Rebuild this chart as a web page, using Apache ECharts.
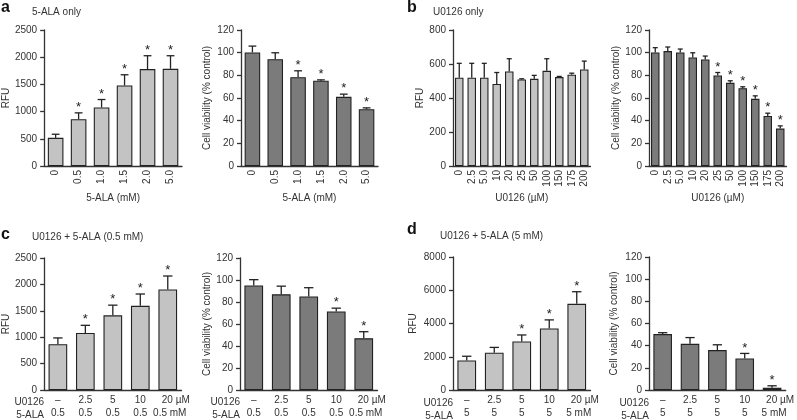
<!DOCTYPE html>
<html><head><meta charset="utf-8">
<script src="https://cdn.jsdelivr.net/npm/echarts@6/dist/echarts.min.js"></script>
<style>html,body{margin:0;padding:0;background:#fff}#c{width:797px;height:420px}</style>
</head><body><div id="c"></div>
<script>
// ---- data ----
const aAla = ['0','0.5','1.0','1.5','2.0','5.0'];
const aRfu = [518,860,1075,1480,1781,1787];
const aRfuErr = [66,117,147,197,246,240];
const aRfuSig = [0,1,1,1,1,1];
const aVia = [100.2,94.3,78.4,75.2,61,50.1];
const aViaErr = [5.6,5.6,5.6,0.8,2.4,1.2];
const aViaSig = [0,0,1,1,1,1];

const bU = ['0','2.5','5.0','10','20','25','50','100','150','175','200'];
const bRfu = [519,519,519,483,556,509,513,560,523,537,568];
const bRfuErr = [85,85,85,67,75,4,20,71,4,9,49];
const bVia = [100.2,101.4,100.2,95.8,94,79.9,73.4,68.7,59.3,44.2,33];
const bViaErr = [4.2,3.6,3,4.1,3,2.6,1.8,1.2,2.6,2.4,2.4];
const bViaSig = [0,0,0,0,0,1,1,1,1,1,1];

const cdU = ['–','2.5','5','10','20'];
const cAla = ['0.5','0.5','0.5','0.5','0.5'];
const cRfu = [868,1080,1414,1594,1904];
const cRfuErr = [118,145,193,224,255];
const cRfuSig = [0,1,1,1,1];
const cVia = [95,87,85,71.4,47];
const cViaErr = [5.3,7.4,8,3,6];
const cViaSig = [0,0,0,1,1];

const dAla = ['5','5','5','5','5'];
const dRfu = [1773,2246,2916,3704,5182];
const dRfuErr = [257,316,394,513,729];
const dRfuSig = [0,0,1,1,1];
const dVia = [50.5,41.7,36,28.4,2];
const dViaErr = [1.2,5.6,4.8,4.6,1.8];
const dViaSig = [0,0,0,1,1];

// ---- styling ----
const FF = '"Liberation Sans", Arial, sans-serif';
const TXT = '#333';
const AX = '#333';
const LIGHT = '#c3c3c3';
const DARK = '#7b7b7b';

const grids = [
  {left:44, top:30, width:138, height:136},
  {left:241, top:30, width:137, height:136},
  {left:453, top:30, width:137.5, height:136},
  {left:649, top:30, width:137.5, height:136},
  {left:44, top:258, width:137.5, height:134},
  {left:240, top:258, width:137.5, height:134},
  {left:453, top:257, width:137.5, height:136},
  {left:649, top:257, width:137.5, height:136}
];

function yAx(idx, max, interval, name, gap) {
  return {gridIndex: idx, type:'value', min:0, max, interval, name, nameLocation:'middle', nameGap:gap,
    nameTextStyle:{fontSize:10, color:TXT, fontFamily:FF},
    axisLine:{show:true, lineStyle:{color:AX, width:1.3}},
    axisTick:{show:true, length:4, lineStyle:{color:AX, width:1.3}},
    axisLabel:{fontSize:10, color:TXT, margin:7, fontFamily:FF, formatter:v => String(v)},
    splitLine:{show:false}};
}
function xRot(idx, cats, name) {
  return {gridIndex: idx, type:'category', data:cats, name, nameLocation:'middle', nameGap:27,
    nameTextStyle:{fontSize:10, color:TXT, fontFamily:FF},
    axisLine:{show:true, lineStyle:{color:AX, width:1.3}},
    axisTick:{show:false},
    axisLabel:{rotate:90, fontSize:10, color:TXT, margin:4, fontFamily:FF, interval:0}};
}
function xTwo(idx, uCats, alaCats) {
  const n = uCats.length;
  return {gridIndex: idx, type:'category', data:uCats,
    axisLine:{show:true, lineStyle:{color:AX, width:1.3}},
    axisTick:{show:false},
    axisLabel:{interval:0, margin:4, fontSize:10, color:TXT, fontFamily:FF, lineHeight:13,
      formatter:(v, i) => i === n-1
        ? `{p1|}{v|${v} µM}\n{p2|}{v|${alaCats[i]} mM}`
        : `{v|${v}}\n{v|${alaCats[i]}}`,
      rich:{v:{fontSize:10, color:TXT, fontFamily:FF, lineHeight:13}, p1:{width:16}, p2:{width:4}}}};
}
function barS(idx, data, color) {
  return {type:'bar', xAxisIndex:idx, yAxisIndex:idx, data, barWidth:'68%', silent:true,
    itemStyle:{color, borderColor:'#222', borderWidth:1.1}};
}
function errS(idx, means, errs, sigs) {
  return {type:'custom', xAxisIndex:idx, yAxisIndex:idx, z:5, silent:true,
    data: means.map((m,i)=>[i, m, m+errs[i], sigs ? sigs[i] : 0]),
    renderItem(params, api) {
      const base = api.coord([api.value(0), api.value(1)]);
      const top = api.coord([api.value(0), api.value(2)]);
      const bw = api.size([1,0])[0] * 0.68;
      const cw = Math.max(5, bw * 0.5);
      const ch = [
        {type:'line', shape:{x1:base[0], y1:base[1], x2:top[0], y2:top[1]}, style:{stroke:'#222', lineWidth:1.3}},
        {type:'line', shape:{x1:top[0]-cw/2, y1:top[1], x2:top[0]+cw/2, y2:top[1]}, style:{stroke:'#222', lineWidth:1.3}}
      ];
      if (api.value(3)) ch.push({type:'text', x:top[0], y:top[1]+1,
        style:{text:'*', fill:'#222', fontSize:13, fontFamily:FF, align:'center', verticalAlign:'bottom'}});
      return {type:'group', children:ch};
    }};
}

const xAxes = [
  xRot(0, aAla, '5-ALA (mM)'), xRot(1, aAla, '5-ALA (mM)'),
  xRot(2, bU, 'U0126 (µM)'), xRot(3, bU, 'U0126 (µM)'),
  xTwo(4, cdU, cAla), xTwo(5, cdU, cAla), xTwo(6, cdU, dAla), xTwo(7, cdU, dAla)
];
const yAxes = [
  yAx(0, 2500, 500, 'RFU', 31), yAx(1, 120, 20, 'Cell viability (% control)', 29),
  yAx(2, 800, 200, 'RFU', 28), yAx(3, 120, 20, 'Cell viability (% control)', 28),
  yAx(4, 2500, 500, 'RFU', 32), yAx(5, 120, 20, 'Cell viability (% control)', 28),
  yAx(6, 8000, 2000, 'RFU', 35), yAx(7, 120, 20, 'Cell viability (% control)', 30)
];
const series = [
  barS(0, aRfu, LIGHT), errS(0, aRfu, aRfuErr, aRfuSig),
  barS(1, aVia, DARK), errS(1, aVia, aViaErr, aViaSig),
  barS(2, bRfu, LIGHT), errS(2, bRfu, bRfuErr, null),
  barS(3, bVia, DARK), errS(3, bVia, bViaErr, bViaSig),
  barS(4, cRfu, LIGHT), errS(4, cRfu, cRfuErr, cRfuSig),
  barS(5, cVia, DARK), errS(5, cVia, cViaErr, cViaSig),
  barS(6, dRfu, LIGHT), errS(6, dRfu, dRfuErr, dRfuSig),
  barS(7, dVia, DARK), errS(7, dVia, dViaErr, dViaSig)
];

const graphic = [];
function label(x, y, t, size, bold, color, align) {
  graphic.push({type:'text', x, y, silent:true, style:{text:t, fontSize:size, fontWeight:bold?'bold':'normal',
    fontFamily:FF, fill:color, align:align||'left', verticalAlign:'middle'}});
}
label(1, 8, 'a', 16, true, '#111'); label(32, 12, '5-ALA only', 10, false, TXT);
label(407, 8, 'b', 16, true, '#111'); label(433, 12, 'U0126 only', 10, false, TXT);
label(1, 235, 'c', 16, true, '#111'); label(32, 237, 'U0126 + 5-ALA (0.5 mM)', 10, false, TXT);
label(407, 230, 'd', 16, true, '#111'); label(440, 236, 'U0126 + 5-ALA (5 mM)', 10, false, TXT);
[4,5,6,7].forEach(i => {
  const g = grids[i];
  const yb = g.top + g.height;
  label(g.left, yb + 10, 'U0126', 10, false, TXT, 'right');
  label(g.left, yb + 23, '5-ALA', 10, false, TXT, 'right');
});

const chart = echarts.init(document.getElementById('c'), null, {renderer:'canvas'});
chart.setOption({
  animation:false, backgroundColor:'#fff',
  grid: grids.map(g => Object.assign({containLabel:false}, g)),
  xAxis: xAxes, yAxis: yAxes, series, graphic
});
</script></body></html>
